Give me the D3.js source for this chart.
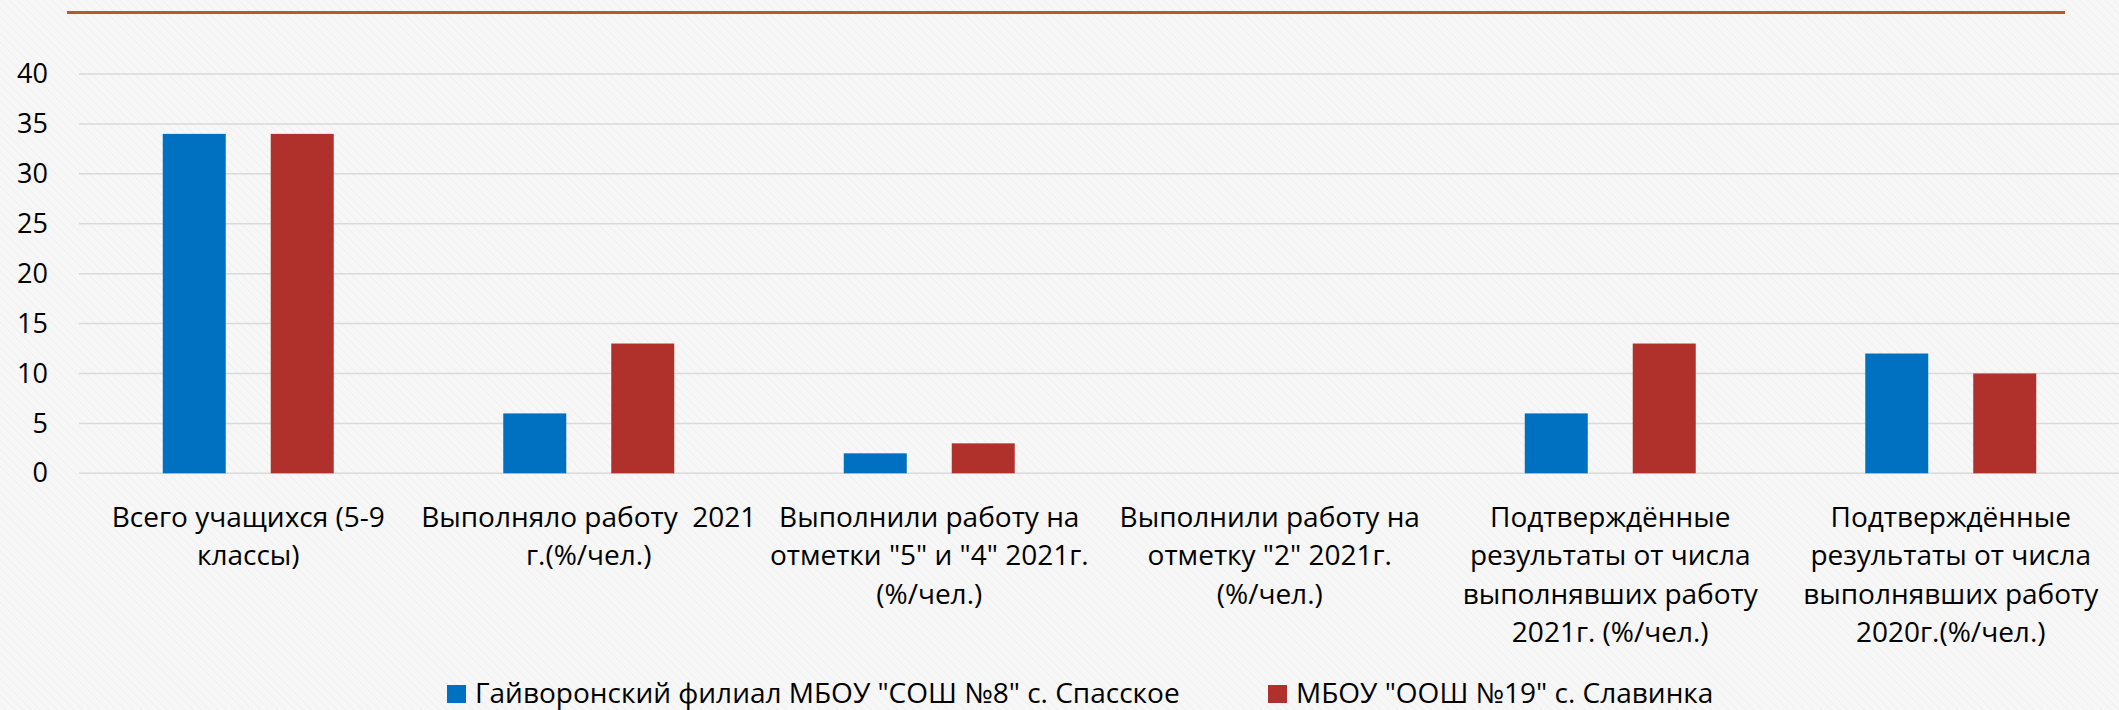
<!DOCTYPE html>
<html>
<head>
<meta charset="utf-8">
<script src="https://cdn.jsdelivr.net/npm/d3@7"></script>
<style>
  html, body { margin: 0; padding: 0; background: #f6f6f6; }
  svg { display: block; }
  text { font-family: "Open Sans", "Noto Sans", "DejaVu Sans", sans-serif; fill: #000; }
</style>
</head>
<body>
<script>
// ---- data ----
const categories = [
  "Всего учащихся (5-9 классы)",
  "Выполняло работу  2021 г.(%/чел.)",
  "Выполнили работу на отметки \"5\" и \"4\" 2021г. (%/чел.)",
  "Выполнили работу на отметку \"2\" 2021г. (%/чел.)",
  "Подтверждённые результаты от числа выполнявших работу 2021г. (%/чел.)",
  "Подтверждённые результаты от числа выполнявших работу 2020г.(%/чел.)"
];
const categoryLines = [
  ["Всего учащихся (5-9", "классы)"],
  ["Выполняло работу  2021", "г.(%/чел.)"],
  ["Выполнили работу на", "отметки \"5\" и \"4\" 2021г.", "(%/чел.)"],
  ["Выполнили работу на", "отметку \"2\" 2021г.", "(%/чел.)"],
  ["Подтверждённые", "результаты от числа", "выполнявших работу", "2021г. (%/чел.)"],
  ["Подтверждённые", "результаты от числа", "выполнявших работу", "2020г.(%/чел.)"]
];
const seriesNames = [
  "Гайворонский филиал МБОУ \"СОШ №8\" с. Спасское",
  "МБОУ \"ООШ №19\" с. Славинка"
];
const seriesA = [34, 6, 2, 0, 6, 12];
const seriesB = [34, 13, 3, 0, 13, 10];
const yTicks = [0, 5, 10, 15, 20, 25, 30, 35, 40];
const colors = ["#0070C0", "#B0312B"];

// ---- layout ----
const W = 2119, H = 710;
const svg = d3.select("body").append("svg").attr("width", W).attr("height", H);

// subtle background texture
const defs = svg.append("defs");
const pat = defs.append("pattern").attr("id", "tex").attr("patternUnits", "userSpaceOnUse")
  .attr("width", 6).attr("height", 6).attr("patternTransform", "rotate(-45)");
pat.append("rect").attr("width", 6).attr("height", 6).attr("fill", "#f7f7f7");
pat.append("line").attr("x1", 0).attr("y1", 0).attr("x2", 0).attr("y2", 6)
  .attr("stroke", "#f0f0f0").attr("stroke-width", 2);
svg.append("rect").attr("width", W).attr("height", H).attr("fill", "url(#tex)");

// decorative top line
svg.append("line").attr("x1", 67).attr("x2", 2065).attr("y1", 12.5).attr("y2", 12.5)
  .attr("stroke", "#B65A2C").attr("stroke-width", 3.2);

const plotLeft = 78, plotRight = 2121;
const y = d3.scaleLinear().domain([0, 40]).range([473.3, 74]);
const x0 = d3.scaleBand().domain(d3.range(categories.length)).range([plotLeft, plotRight]);
const x1 = d3.scaleBand().domain([0, 1]).range([0, x0.bandwidth()])
  .paddingInner(0.4167).paddingOuter(0.785);

// gridlines
svg.append("g").selectAll("line").data(yTicks).join("line")
  .attr("x1", 79).attr("x2", 2119)
  .attr("y1", d => y(d)).attr("y2", d => y(d))
  .attr("stroke", "#dadada").attr("stroke-width", 1.5);

// y axis labels
const yAxis = d3.axisLeft(y).tickValues(yTicks).tickSize(0).tickPadding(0);
const gy = svg.append("g").attr("transform", "translate(48,0)").call(yAxis);
gy.select(".domain").remove();
gy.selectAll("text").attr("font-size", 27).attr("fill", "#000")
  .style("font-family", "\"Open Sans\", sans-serif");

// bars
const series = [seriesA, seriesB];
series.forEach((vals, si) => {
  svg.append("g").selectAll("rect").data(vals).join("rect")
    .attr("x", (d, i) => x0(i) + x1(si))
    .attr("width", x1.bandwidth())
    .attr("y", d => y(d))
    .attr("height", d => y(0) - y(d))
    .attr("fill", colors[si]);
});

// category labels
const lab = svg.append("g");
categoryLines.forEach((lines, i) => {
  const t = lab.append("text")
    .attr("text-anchor", "middle")
    .attr("font-size", 28)
    .attr("xml:space", "preserve")
    .style("white-space", "pre");
  lines.forEach((ln, j) => {
    t.append("tspan")
      .attr("x", x0(i) + x0.bandwidth() / 2)
      .attr("y", 527 + j * 38.3)
      .text(ln);
  });
});

// legend
const legendItems = [
  { name: seriesNames[0], color: colors[0], sx: 447, tx: 475 },
  { name: seriesNames[1], color: colors[1], sx: 1268, tx: 1296 }
];
const lg = svg.append("g");
legendItems.forEach(it => {
  lg.append("rect").attr("x", it.sx).attr("y", 685).attr("width", 19).attr("height", 18)
    .attr("fill", it.color);
  lg.append("text").attr("x", it.tx).attr("y", 703).attr("font-size", 28).text(it.name);
});
</script>
</body>
</html>
